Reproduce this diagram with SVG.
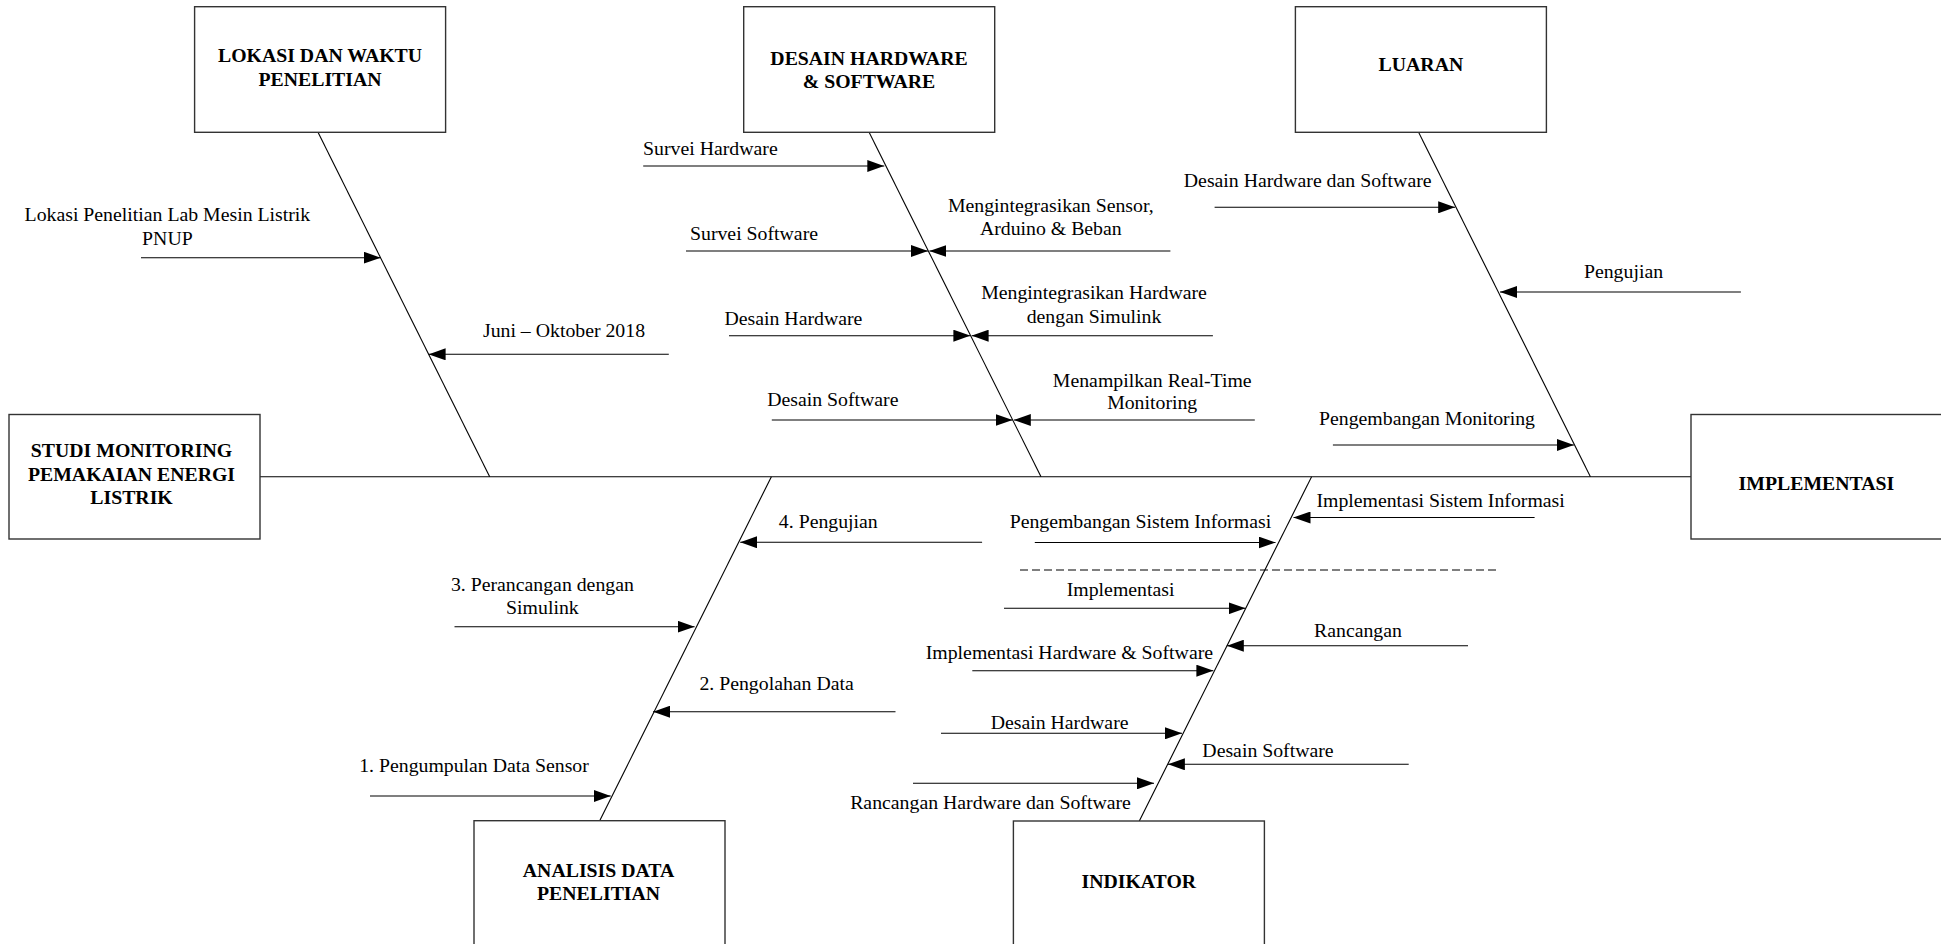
<svg xmlns="http://www.w3.org/2000/svg" width="1941" height="944" viewBox="0 0 1941 944">
<defs>
<marker id="ah" viewBox="0 0 17 12" refX="17" refY="6" markerWidth="17" markerHeight="12" markerUnits="userSpaceOnUse" orient="auto">
<path d="M0,0 L17,6 L0,12 z" fill="#000"/>
</marker>
<style>
.box{fill:#fff;stroke:#333;stroke-width:1.4}
.bt{font-family:"Liberation Serif","Times New Roman",serif;font-size:19.8px;font-weight:bold;text-anchor:middle;fill:#000}
.lt{font-family:"Liberation Serif","Times New Roman",serif;font-size:19.8px;text-anchor:middle;fill:#000}
.ln{stroke:#000;stroke-width:1.1;fill:none}
.ar{stroke:#000;stroke-width:1.1;fill:none;marker-end:url(#ah)}
.dash{stroke:#000;stroke-width:1.1;fill:none;stroke-dasharray:8 4}
</style>
</defs>
<rect width="1941" height="944" fill="#fff"/>
<g id="connectors">
<line class="ln" x1="260" y1="476.7" x2="1691" y2="476.7"/>
<line class="ln" x1="318" y1="132.3" x2="489.7" y2="476.7"/>
<line class="ln" x1="869.1" y1="132.3" x2="1041" y2="476.7"/>
<line class="ln" x1="1418.6" y1="132.3" x2="1590.4" y2="476.7"/>
<line class="ln" x1="771.4" y1="476.7" x2="599.6" y2="821"/>
<line class="ln" x1="1311.6" y1="476.7" x2="1139.3" y2="821"/>
<line class="ar" x1="141" y1="257.7" x2="380.7" y2="257.7"/>
<line class="ar" x1="668.8" y1="354.3" x2="428.6" y2="354.3"/>
<line class="ar" x1="643.2" y1="166" x2="884.3" y2="166"/>
<line class="ar" x1="686" y1="251" x2="928" y2="251"/>
<line class="ar" x1="1170.4" y1="251" x2="929.4" y2="251"/>
<line class="ar" x1="729" y1="335.7" x2="970.4" y2="335.7"/>
<line class="ar" x1="1212.9" y1="335.7" x2="971.6" y2="335.7"/>
<line class="ar" x1="771.8" y1="420" x2="1012.6" y2="420"/>
<line class="ar" x1="1254.8" y1="420" x2="1013.8" y2="420"/>
<line class="ar" x1="1214.6" y1="207.3" x2="1455.2" y2="207.3"/>
<line class="ar" x1="1740.9" y1="292" x2="1500" y2="292"/>
<line class="ar" x1="1332.9" y1="445" x2="1573.9" y2="445"/>
<line class="ar" x1="982.1" y1="542.3" x2="740.2" y2="542.3"/>
<line class="ar" x1="454.5" y1="626.7" x2="694.6" y2="626.7"/>
<line class="ar" x1="895.5" y1="711.7" x2="653.1" y2="711.7"/>
<line class="ar" x1="370" y1="796" x2="610.7" y2="796"/>
<line class="ar" x1="1534.6" y1="517.5" x2="1293.5" y2="517.5"/>
<line class="ar" x1="1034.8" y1="542.5" x2="1275.5" y2="542.5"/>
<line class="dash" x1="1020" y1="570" x2="1500" y2="570"/>
<line class="ar" x1="1004" y1="608.3" x2="1245.5" y2="608.3"/>
<line class="ar" x1="1468" y1="645.7" x2="1226.8" y2="645.7"/>
<line class="ar" x1="972.3" y1="670.7" x2="1213.4" y2="670.7"/>
<line class="ar" x1="941" y1="733.3" x2="1182" y2="733.3"/>
<line class="ar" x1="1408.7" y1="764.3" x2="1167.9" y2="764.3"/>
<line class="ar" x1="913" y1="783.3" x2="1154" y2="783.3"/>
</g>
<g id="labels">
<text class="lt" x="167.4" y="221">Lokasi Penelitian Lab Mesin Listrik</text>
<text class="lt" x="167.4" y="245">PNUP</text>
<text class="lt" x="564" y="337.3">Juni – Oktober 2018</text>
<text class="lt" x="710.4" y="155">Survei Hardware</text>
<text class="lt" x="754" y="240">Survei Software</text>
<text class="lt" x="1050.8" y="211.7">Mengintegrasikan Sensor,</text>
<text class="lt" x="1050.8" y="235">Arduino &amp; Beban</text>
<text class="lt" x="793.4" y="325">Desain Hardware</text>
<text class="lt" x="1094" y="299">Mengintegrasikan Hardware</text>
<text class="lt" x="1094" y="322.7">dengan Simulink</text>
<text class="lt" x="832.8" y="405.7">Desain Software</text>
<text class="lt" x="1152.2" y="386.7">Menampilkan Real-Time</text>
<text class="lt" x="1152.2" y="409">Monitoring</text>
<text class="lt" x="1307.7" y="186.7">Desain Hardware dan Software</text>
<text class="lt" x="1623.5" y="278.3">Pengujian</text>
<text class="lt" x="1427" y="425">Pengembangan Monitoring</text>
<text class="lt" x="828.3" y="528.3">4. Pengujian</text>
<text class="lt" x="542.4" y="591">3. Perancangan dengan</text>
<text class="lt" x="542.4" y="614.3">Simulink</text>
<text class="lt" x="776.6" y="690">2. Pengolahan Data</text>
<text class="lt" x="474" y="771.7">1. Pengumpulan Data Sensor</text>
<text class="lt" x="1440.6" y="507">Implementasi Sistem Informasi</text>
<text class="lt" x="1140.4" y="527.7">Pengembangan Sistem Informasi</text>
<text class="lt" x="1120.6" y="596">Implementasi</text>
<text class="lt" x="1358" y="636.7">Rancangan</text>
<text class="lt" x="1069.4" y="659.3">Implementasi Hardware &amp; Software</text>
<text class="lt" x="1059.6" y="728.7">Desain Hardware</text>
<text class="lt" x="1268" y="756.7">Desain Software</text>
<text class="lt" x="990.5" y="809.3">Rancangan Hardware dan Software</text>
</g>
<g id="node-studi">
<rect class="box" x="9" y="414.5" width="251" height="124.5"/>
<text class="bt" x="131.5" y="456.7">STUDI MONITORING</text>
<text class="bt" x="131.5" y="480.7">PEMAKAIAN ENERGI</text>
<text class="bt" x="131.5" y="504">LISTRIK</text>
</g>
<g id="node-lokasi">
<rect class="box" x="194.6" y="6.7" width="251" height="125.6"/>
<text class="bt" x="320" y="61.7">LOKASI DAN WAKTU</text>
<text class="bt" x="320" y="85.7">PENELITIAN</text>
</g>
<g id="node-desain">
<rect class="box" x="743.7" y="6.7" width="251" height="125.6"/>
<text class="bt" x="869" y="65">DESAIN HARDWARE</text>
<text class="bt" x="869" y="87.7">&amp; SOFTWARE</text>
</g>
<g id="node-luaran">
<rect class="box" x="1295.4" y="6.7" width="251" height="125.6"/>
<text class="bt" x="1420.9" y="71">LUARAN</text>
</g>
<g id="node-implementasi">
<rect class="box" x="1691" y="414.5" width="251" height="124.5"/>
<text class="bt" x="1816.4" y="490.4">IMPLEMENTASI</text>
</g>
<g id="node-analisis">
<rect class="box" x="474" y="820.7" width="251" height="130"/>
<text class="bt" x="598.6" y="876.7">ANALISIS DATA</text>
<text class="bt" x="598.6" y="900">PENELITIAN</text>
</g>
<g id="node-indikator">
<rect class="box" x="1013.4" y="821" width="251" height="130"/>
<text class="bt" x="1138.8" y="888.3">INDIKATOR</text>
</g>
</svg>
